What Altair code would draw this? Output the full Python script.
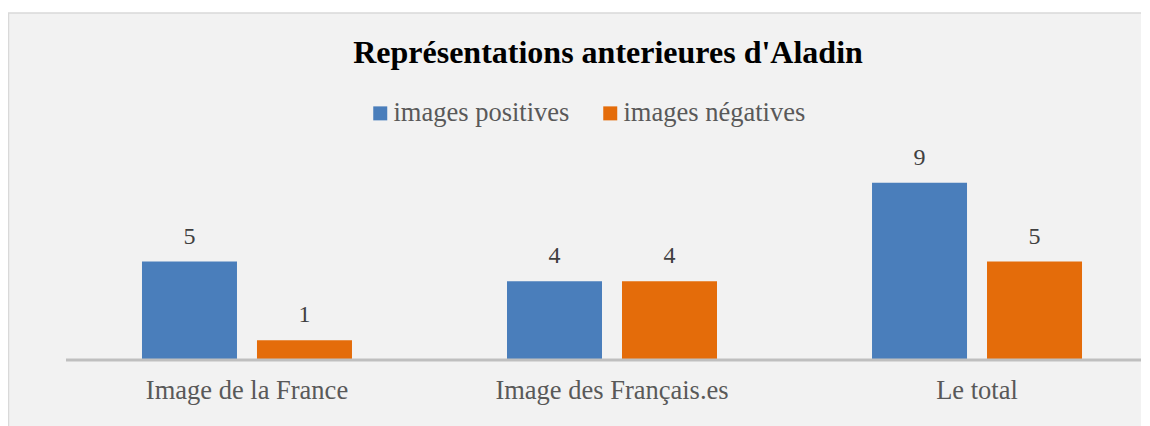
import altair as alt
import pandas as pd

title_text = "Représentations anterieures d'Aladin"
categories = ["Image de la France", "Image des Français.es", "Le total"]
series = ["images positives", "images négatives"]
positives = [5, 4, 9]
negatives = [1, 4, 5]

rows = []
for c, p, n in zip(categories, positives, negatives):
    rows.append({"cat": c, "serie": series[0], "val": p})
    rows.append({"cat": c, "serie": series[1], "val": n})
df = pd.DataFrame(rows)

FONT = "Liberation Serif"
colors = ["#4A7EBB", "#E46C0A"]

x_enc = alt.X("cat:N", sort=categories,
              scale=alt.Scale(paddingInner=0.4247, paddingOuter=0.1616),
              axis=alt.Axis(title=None, labelAngle=0, labelFontSize=26.5, labelFont=FONT,
                            labelColor="#595959", labelPadding=17, ticks=False,
                            domain=False, labelLimit=400, zindex=2))
xo = alt.XOffset("serie:N", sort=series,
                 scale=alt.Scale(paddingInner=0.1739, paddingOuter=0))
y_enc = alt.Y("val:Q", scale=alt.Scale(domain=[0, 10]), axis=None)

one = pd.DataFrame({"t": [title_text]})

panel = alt.Chart(one).mark_rect(
    fill="#F2F2F2", stroke="#D9D9D9", strokeWidth=1.5
).encode(x=alt.value(-74.5), x2=alt.value(1100), y=alt.value(-150), y2=alt.value(300))

title = alt.Chart(one).mark_text(
    font=FONT, fontSize=32, fontWeight="bold", color="#000000",
    align="center", baseline="alphabetic"
).encode(x=alt.value(525), y=alt.value(-100), text="t:N")

bars = alt.Chart(df).mark_bar().encode(
    x=x_enc, xOffset=xo, y=y_enc,
    color=alt.Color("serie:N", sort=series,
                    scale=alt.Scale(domain=series, range=colors),
                    legend=alt.Legend(title=None, orient="none", direction="horizontal",
                                      legendX=284, legendY=-63,
                                      symbolType="square", symbolSize=196,
                                      symbolStrokeWidth=0,
                                      labelFont=FONT, labelFontSize=26.5,
                                      labelColor="#595959", columnPadding=27,
                                      labelOffset=0, labelLimit=400)),
)

labels = alt.Chart(df).mark_text(font=FONT, fontSize=24, color="#404040",
                                 baseline="alphabetic", dy=-18).encode(
    x=alt.X("cat:N", sort=categories), xOffset=alt.XOffset("serie:N", sort=series),
    y="val:Q", text="val:Q",
)

baseline = alt.Chart(one).mark_rule(color="#BFBFBF", strokeWidth=3).encode(
    x=alt.value(-17), x2=alt.value(1070), y=alt.value(197)
)

chart = alt.layer(panel, title, bars, baseline, labels).properties(
    width=1058, height=197,
    autosize=alt.AutoSizeParams(type="none"),
    padding={"left": 75, "top": 155, "right": 0, "bottom": 66},
    background="#FFFFFF",
).configure_view(stroke=None)

chart.save("out.html", embed_options={"renderer": "svg", "actions": False})
